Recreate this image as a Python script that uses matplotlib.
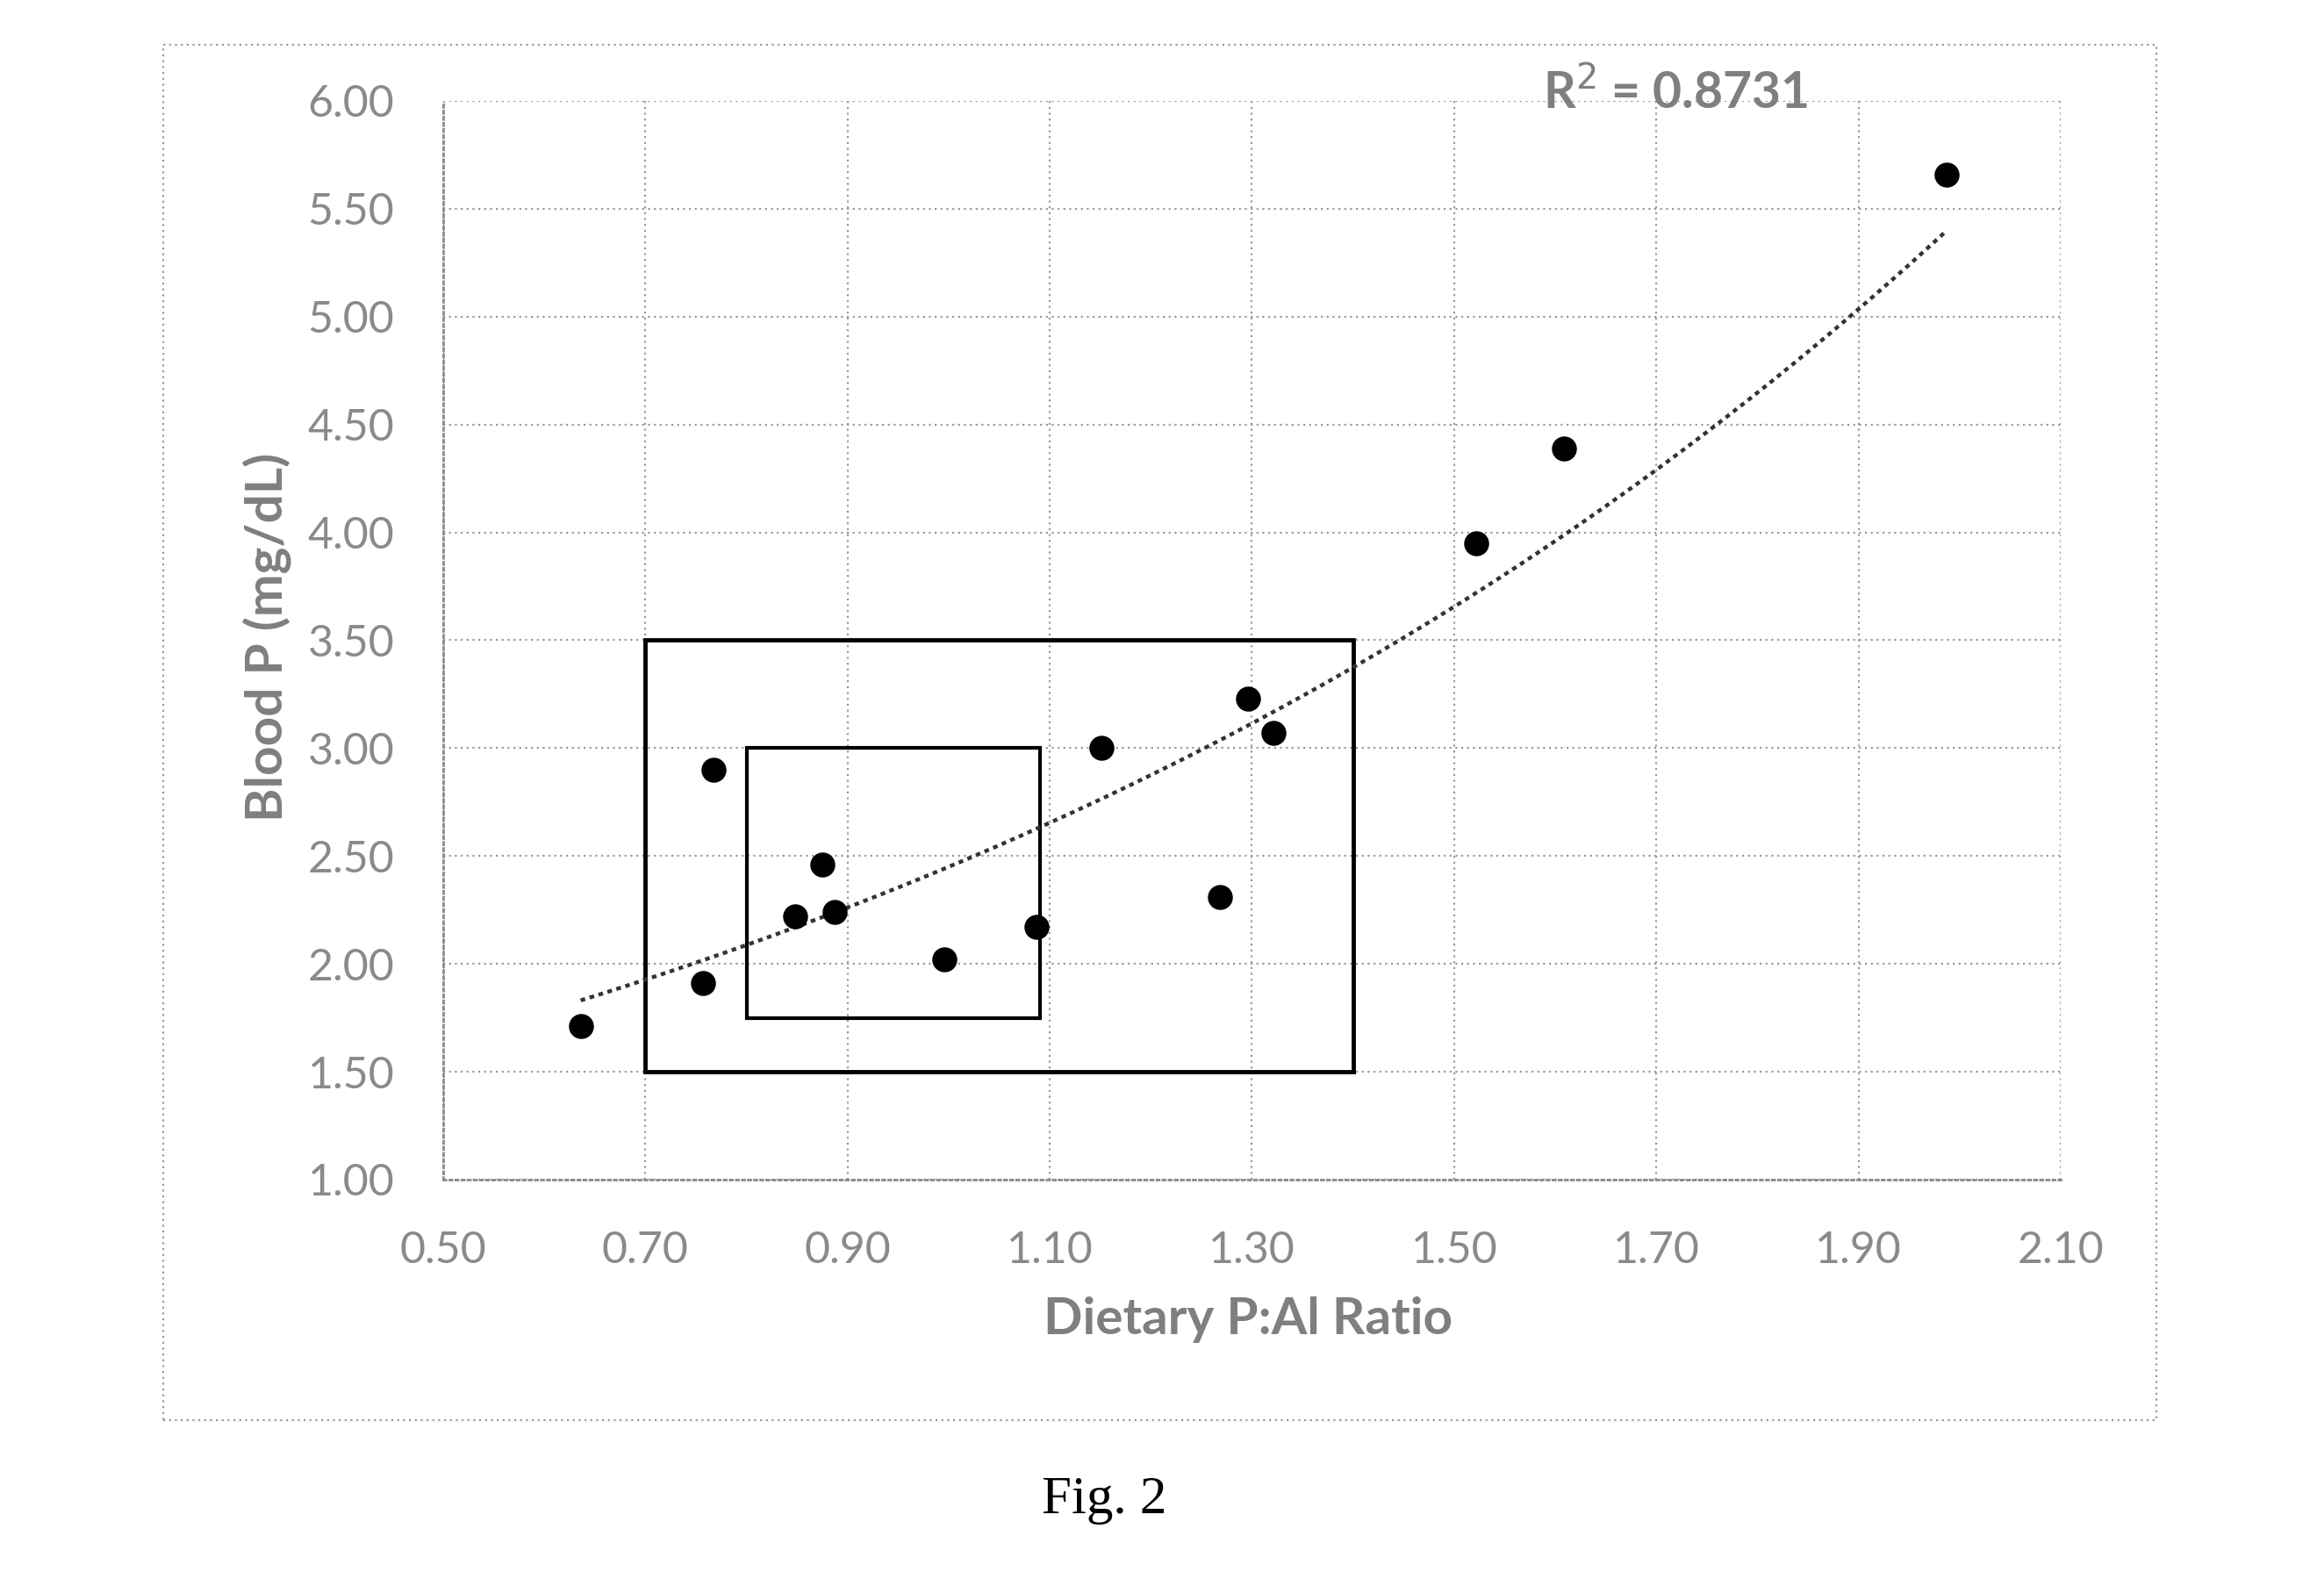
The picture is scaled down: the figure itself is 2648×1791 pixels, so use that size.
import numpy as np
import matplotlib
matplotlib.use('Agg')
import matplotlib.pyplot as plt
from matplotlib.patches import Rectangle

# values
ratio = [0.636, 0.757, 0.767, 0.848, 0.875, 0.887, 0.996, 1.087,
         1.151, 1.268, 1.296, 1.321, 1.522, 1.609, 1.987]
blood_p = [1.71, 1.91, 2.90, 2.22, 2.46, 2.24, 2.02, 2.17,
           3.00, 2.31, 3.23, 3.07, 3.95, 4.39, 5.66]

x_ticks = [0.50, 0.70, 0.90, 1.10, 1.30, 1.50, 1.70, 1.90, 2.10]
y_ticks = [1.00, 1.50, 2.00, 2.50, 3.00, 3.50, 4.00, 4.50, 5.00, 5.50, 6.00]

# boxes drawn on the chart: (x0, x1, y0, y1)
outer_box = (0.70, 1.40, 1.50, 3.50)
inner_box = (0.80, 1.09, 1.75, 3.00)

r2_text = 'R$^2$ = 0.8731'

plt.rcParams['font.family'] = ['Lato', 'DejaVu Sans']
fig = plt.figure(figsize=(26.48, 17.91), dpi=100)
ax = fig.add_axes([0.1907, 0.2496, 0.6960, 0.6862])

ax.set_xlim(0.5, 2.1)
ax.set_ylim(1.0, 6.0)
ax.set_xticks(x_ticks)
ax.set_yticks(y_ticks)
ax.set_xticklabels(['%.2f' % v for v in x_ticks])
ax.set_yticklabels(['%.2f' % v for v in y_ticks])
ax.tick_params(length=0, labelsize=36, colors='#8a8a8a')
ax.tick_params(axis='x', pad=42)
ax.tick_params(axis='y', pad=40)
ax.grid(True, linestyle=(0, (1, 2)), color='#9a9a9a', linewidth=1.6)
for s in ['top', 'right']:
    ax.spines[s].set_visible(False)
for s in ['left', 'bottom']:
    ax.spines[s].set_linestyle((0, (1, 1.5)))
    ax.spines[s].set_color('#8a8a8a')
    ax.spines[s].set_linewidth(2)

# exponential trendline
b, ln_a = np.polyfit(ratio, np.log(blood_p), 1)
xs = np.linspace(min(ratio), max(ratio), 200)
ax.plot(xs, np.exp(ln_a) * np.exp(b * xs), linestyle=(0, (1.2, 1.2)),
        color='#333333', linewidth=3.2, zorder=3)

ax.scatter(ratio, blood_p, s=380, color='black', zorder=4)

for box, lw in [(outer_box, 3.5), (inner_box, 3.0)]:
    x0, x1, y0, y1 = box
    ax.add_patch(Rectangle((x0, y0), x1 - x0, y1 - y0, fill=False,
                           edgecolor='black', linewidth=lw, zorder=2))

fig.text(0.537, 0.1608, 'Dietary P:Al Ratio', ha='center', va='center',
         fontsize=42, fontweight='bold', color='#7f7f7f')
fig.text(0.1148, 0.5946, 'Blood P (mg/dL)', ha='center', va='center',
         rotation=90, fontsize=42, fontweight='bold', color='#7f7f7f')
fig.text(0.7209, 0.9414, r2_text, ha='center', va='center',
         fontsize=41, fontweight='bold', color='#7f7f7f')

# chart area border
fig.patches.append(Rectangle((0.0702, 0.0966), 0.8578, 0.8749, fill=False,
                             transform=fig.transFigure, linestyle=(0, (1, 2)),
                             edgecolor='#9a9a9a', linewidth=1.6))

fig.text(0.475, 0.0458, 'Fig. 2', ha='center', va='center', fontsize=44,
         family='Liberation Serif', color='black')

fig.savefig('out.png', dpi=100, facecolor='white')
